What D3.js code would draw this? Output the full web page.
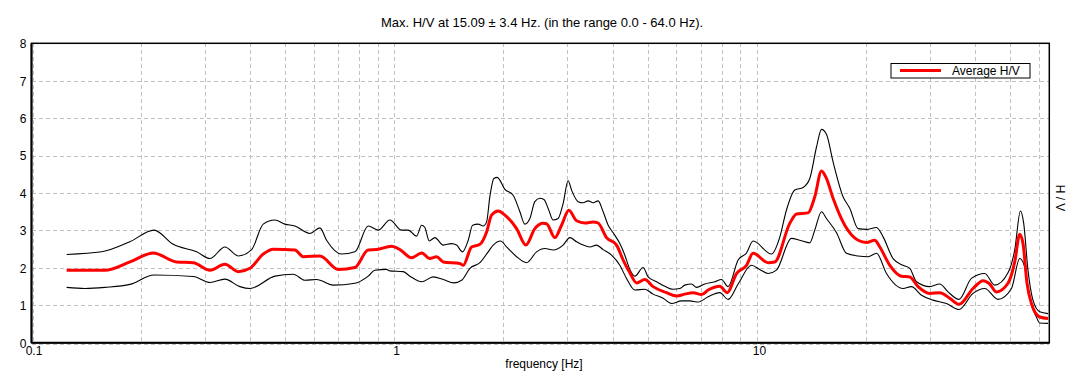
<!DOCTYPE html>
<html><head><meta charset="utf-8">
<script src="https://cdn.jsdelivr.net/npm/d3@7"></script>
<style>
html,body{margin:0;padding:0;background:#fff;}
svg{display:block;font-family:"Liberation Sans",Arial,sans-serif;}
</style></head>
<body><svg id="c" width="1081" height="387"></svg>
<script>
const titleText = "Max. H/V at 15.09 \u00b1 3.4 Hz. (in the range 0.0 - 64.0 Hz).";
const xLabel = "frequency [Hz]";
const yLabel = "H / V";
const legendLabel = "Average H/V";
const xTickValues = [0.1, 1, 10];
const yTickValues = [0,1,2,3,4,5,6,7,8];

const avgFreq = [0.125,0.1594,0.1868,0.2166,0.2513,0.2793,0.3105,0.3414,0.3715,0.4002,0.4354,0.4639,0.5324,0.5612,0.624,0.7011,0.7792,0.848,0.894,0.9836,1.037,1.117,1.19,1.254,1.309,1.365,1.517,1.55,1.634,1.723,1.798,1.855,1.935,2.019,2.175,2.307,2.442,2.575,2.63,2.773,2.893,3.03,3.183,3.355,3.536,3.65,3.849,4.102,4.278,4.464,4.658,4.909,5.175,5.634,6.003,6.328,6.67,7.037,7.338,7.903,8.279,8.785,9.36,9.76,10.74,11.2,12.32,12.86,13.84,14.44,15.07,15.55,16.22,17.47,19.01,20.05,21.13,21.82,23.25,25.04,26.39,27.82,29.97,31.92,34.02,36.08,39.44,42.03,43.85,45.75,49.24,51.39,53.04,54.16,55.56,57.14,60.23,63.48];
const avgHV = [1.94,1.94,2.16,2.40,2.16,2.14,1.94,2.10,1.90,1.99,2.37,2.50,2.48,2.30,2.32,1.96,2.01,2.48,2.49,2.58,2.49,2.27,2.40,2.25,2.30,2.16,2.12,2.07,2.56,2.63,2.96,3.41,3.52,3.41,3.05,2.61,3.05,3.19,3.18,2.81,3.14,3.54,3.26,3.20,3.23,3.20,2.81,2.61,2.21,1.87,1.60,1.69,1.50,1.34,1.25,1.30,1.34,1.29,1.41,1.51,1.34,1.85,2.07,2.39,2.14,2.16,3.19,3.44,3.47,3.90,4.59,4.39,3.86,3.14,2.74,2.68,2.74,2.56,2.07,1.78,1.76,1.50,1.32,1.34,1.19,1.03,1.45,1.66,1.57,1.36,1.59,2.16,2.90,2.65,1.59,1.05,0.69,0.65];

const upFreq = [0.125,0.1561,0.1868,0.2176,0.246,0.2853,0.3105,0.3414,0.3715,0.4045,0.4354,0.469,0.4995,0.5324,0.5857,0.624,0.651,0.7161,0.7792,0.848,0.9035,0.973,1.048,1.093,1.153,1.19,1.215,1.249,1.295,1.365,1.439,1.486,1.543,1.6,1.645,1.704,1.759,1.798,1.835,1.883,1.923,2.019,2.128,2.221,2.292,2.366,2.442,2.521,2.586,2.658,2.744,2.831,2.922,3.017,3.083,3.215,3.319,3.426,3.536,3.65,3.768,3.89,4.015,4.189,4.324,4.464,4.608,4.857,5.013,5.288,5.574,5.875,6.131,6.328,6.601,6.814,7.186,7.656,7.988,8.33,8.876,9.36,9.76,10.97,11.57,12.06,12.72,13.41,13.99,14.6,15.07,15.55,16.22,17.28,18.04,19.01,20.05,21.37,22.28,23.74,25.29,26.39,27.54,29.97,31.92,33.65,36.08,39.04,42.49,45.25,49.24,51.39,53.29,54.4,55.9,57.7,60.23,63.48];
const upHV = [2.36,2.43,2.70,3.01,2.63,2.43,2.25,2.56,2.32,2.49,3.17,3.28,3.17,3.12,2.92,3.07,2.74,2.37,2.43,3.12,3.01,3.28,3.01,3.01,2.85,3.14,3.08,2.72,2.81,2.61,2.65,2.61,2.43,2.74,3.14,3.17,3.12,3.23,3.90,4.39,4.42,4.10,3.94,3.50,3.17,3.32,3.77,3.86,3.83,3.59,3.28,3.32,3.72,4.33,4.08,3.77,3.74,3.79,3.74,3.79,3.50,3.14,2.94,2.65,2.34,1.96,1.78,2.01,1.76,1.63,1.51,1.43,1.45,1.54,1.57,1.48,1.57,1.63,1.69,1.50,2.21,2.40,2.72,2.37,2.83,3.54,4.08,4.15,4.39,5.23,5.70,5.57,4.83,3.90,3.59,3.05,3.03,3.08,2.83,2.25,2.07,1.99,1.63,1.50,1.57,1.36,1.16,1.72,1.85,1.54,1.87,2.48,3.52,3.19,1.94,1.14,0.83,0.78];

const loFreq = [0.125,0.1404,0.1594,0.1868,0.2176,0.2793,0.3105,0.3414,0.3755,0.4002,0.469,0.5267,0.5673,0.6109,0.6788,0.7792,0.848,0.8846,0.9529,0.973,1.059,1.105,1.19,1.281,1.365,1.461,1.534,1.617,1.723,1.816,1.875,1.965,2.041,2.175,2.317,2.469,2.603,2.744,2.922,3.05,3.183,3.319,3.463,3.613,3.768,3.974,4.189,4.371,4.608,4.909,5.175,5.515,5.816,6.197,6.531,6.886,7.338,7.903,8.33,8.876,9.663,10.18,10.74,11.32,12.45,13.13,13.99,14.44,15.07,15.55,16.58,17.66,19.01,20.26,21.37,22.77,25.29,26.68,28.43,30.6,33.31,36.08,39.44,42.49,46.22,50.33,53.04,54.74,56.5,58.96,60.23,63.48];
const loHV = [1.48,1.45,1.48,1.56,1.81,1.77,1.61,1.70,1.50,1.45,1.78,1.83,1.67,1.69,1.54,1.59,1.78,1.94,1.96,1.92,1.90,1.78,1.63,1.76,1.69,1.60,1.67,1.99,2.14,2.43,2.61,2.72,2.56,2.30,2.14,2.43,2.52,2.48,2.61,2.81,2.70,2.61,2.56,2.61,2.49,2.34,2.07,1.72,1.41,1.43,1.30,1.19,1.05,1.12,1.12,1.09,1.23,1.34,1.16,1.57,2.07,1.96,1.85,1.94,2.79,2.74,2.67,3.01,3.50,3.32,2.94,2.39,2.32,2.30,2.39,1.85,1.45,1.50,1.27,1.14,1.05,0.89,1.32,1.45,1.16,1.45,2.25,2.03,1.19,0.69,0.53,0.52];

const svg = d3.select("#c");
const L = 31.5, R = 1049.3, T = 43.3, B = 342.8;
const x = d3.scaleLog().domain([0.1, 64]).range([L, R]);
const y = d3.scaleLinear().domain([0, 8]).range([B, T]);

// grid
const gridX = [];
for (let d of [0.1, 1, 10]) for (let k = 1; k <= 9; k++) { const v = d * k; if (v > 0.1 && v < 64) gridX.push(v); }
const g = svg.append("g").attr("stroke", "#c0c0c0").attr("stroke-width", 1).attr("stroke-dasharray", "4,3").attr("shape-rendering","crispEdges");
g.selectAll("line.gx").data(gridX).enter().append("line")
  .attr("x1", d => Math.round(x(d)) + 0.5).attr("x2", d => Math.round(x(d)) + 0.5)
  .attr("y1", T).attr("y2", B);
g.selectAll("line.gy").data(yTickValues.filter(v => v > 0 && v < 8)).enter().append("line")
  .attr("y1", d => Math.round(y(d)) + 0.5).attr("y2", d => Math.round(y(d)) + 0.5)
  .attr("x1", L).attr("x2", R);
g.append("line").attr("x1", L).attr("x2", R).attr("y1", B + 2).attr("y2", B + 2);
g.append("line").attr("x1", L + 1.5).attr("x2", L + 1.5).attr("y1", T).attr("y2", B);

// curves
const line = d3.line().x(d => x(d[0])).y(d => y(d[1])).curve(d3.curveMonotoneX);
const zip = (a, b) => a.map((v, i) => [v, b[i]]);
svg.append("path").attr("d", line(zip(upFreq, upHV))).attr("fill", "none").attr("stroke", "#000").attr("stroke-width", 1.1);
svg.append("path").attr("d", line(zip(loFreq, loHV))).attr("fill", "none").attr("stroke", "#000").attr("stroke-width", 1.1);
svg.append("path").attr("d", line(zip(avgFreq, avgHV))).attr("fill", "none").attr("stroke", "#ff0000").attr("stroke-width", 3);

// frame
svg.append("rect").attr("x", L).attr("y", T).attr("width", R - L).attr("height", B - T)
  .attr("fill", "none").attr("stroke", "#000").attr("stroke-width", 1.5);
svg.append("line").attr("x1", L).attr("x2", L).attr("y1", T).attr("y2", B).attr("stroke", "#000").attr("stroke-width", 2);
svg.append("line").attr("x1", L).attr("x2", R).attr("y1", B).attr("y2", B).attr("stroke", "#000").attr("stroke-width", 2);

// axes labels
const yAxis = d3.axisLeft(y).tickValues(yTickValues).tickSize(0).tickPadding(5).tickFormat(d3.format("d"));
const ya = svg.append("g").attr("transform", `translate(${L},0)`).call(yAxis);
ya.select(".domain").remove();
ya.selectAll("text").attr("font-size", 12).attr("font-family", "Liberation Sans, Arial, sans-serif").attr("fill", "#000").attr("dy", "0.36em");

const xAxis = d3.axisBottom(x).tickValues(xTickValues).tickSize(0).tickPadding(4).tickFormat(d => d === 0.1 ? "0.1" : String(d));
const xa = svg.append("g").attr("transform", `translate(2,${B})`).call(xAxis);
xa.select(".domain").remove();
xa.selectAll("text").attr("font-size", 12).attr("font-family", "Liberation Sans, Arial, sans-serif").attr("fill", "#000");

svg.append("text").attr("x", 542).attr("y", 27).attr("text-anchor", "middle").attr("font-size", 13).text(titleText);
svg.append("text").attr("x", 544).attr("y", 368).attr("text-anchor", "middle").attr("font-size", 12).text(xLabel);
svg.append("text").attr("transform", "translate(1056,198) rotate(90)").attr("text-anchor", "middle").attr("font-size", 12).text(yLabel);

// legend
const lg = svg.append("g");
lg.append("rect").attr("x", 891).attr("y", 63.5).attr("width", 139).attr("height", 14.5).attr("fill", "#fff").attr("stroke", "#000").attr("stroke-width", 1);
lg.append("line").attr("x1", 900).attr("x2", 941).attr("y1", 70.5).attr("y2", 70.5).attr("stroke", "#ff0000").attr("stroke-width", 3);
lg.append("text").attr("x", 952).attr("y", 75).attr("font-size", 12).text(legendLabel);
</script></body></html>
